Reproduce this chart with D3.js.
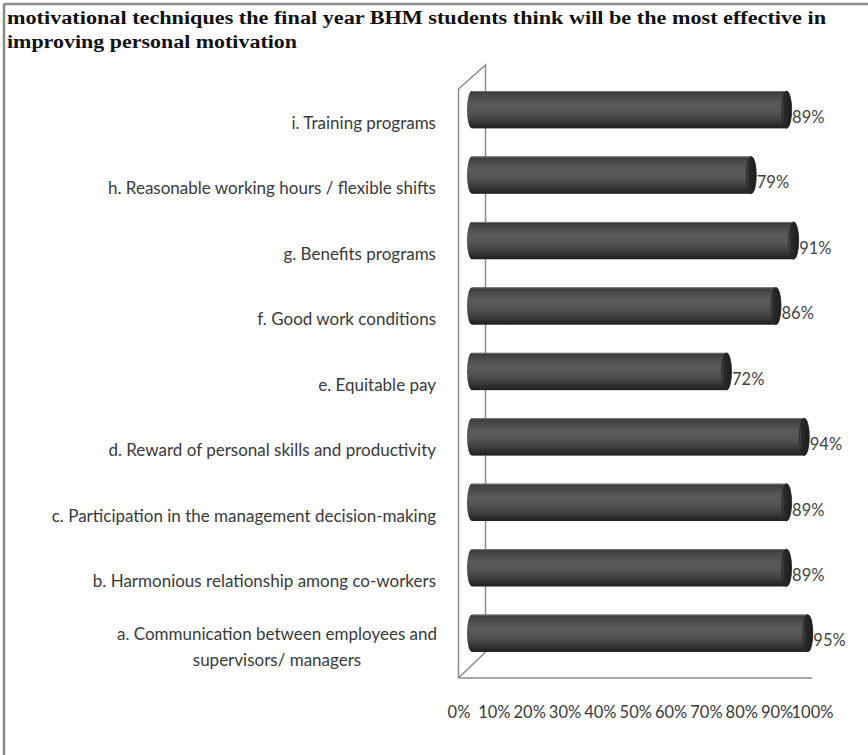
<!DOCTYPE html>
<html>
<head>
<meta charset="utf-8">
<script src="https://cdn.jsdelivr.net/npm/d3@7/dist/d3.min.js"></script>
<style>
  html, body { margin: 0; padding: 0; background: #fff; }
  svg { display: block; }
</style>
</head>
<body>
<svg id="chart" width="868" height="755"></svg>
<script>
// ---- data ----
const categories = [
  "i. Training programs",
  "h. Reasonable working hours / flexible shifts",
  "g. Benefits programs",
  "f. Good work conditions",
  "e. Equitable pay",
  "d. Reward of personal skills and productivity",
  "c. Participation in the management decision-making",
  "b. Harmonious relationship among co-workers",
  "a. Communication between employees and|supervisors/ managers"
];
const values = [0.89, 0.79, 0.91, 0.86, 0.72, 0.94, 0.89, 0.89, 0.95];
const tickValues = [0, 0.1, 0.2, 0.3, 0.4, 0.5, 0.6, 0.7, 0.8, 0.9, 1.0];
const titleLines = [
  "motivational techniques the final year BHM students think will be the most effective in",
  "improving personal motivation"
];

const svg = d3.select("#chart");
const W = 868, H = 755;
const textFont = "Lato, 'Open Sans', sans-serif";

// frame (left and top border)
svg.append("line").attr("x1", 4).attr("y1", 4).attr("x2", 4).attr("y2", H)
  .attr("stroke", "#8a8a8a").attr("stroke-width", 2.5);
svg.append("line").attr("x1", 4).attr("y1", 4).attr("x2", W).attr("y2", 4)
  .attr("stroke", "#8a8a8a").attr("stroke-width", 2.5);

// title
const title = svg.append("g").attr("font-family", "'Liberation Serif', 'Times New Roman', serif")
  .attr("font-weight", "bold").attr("font-size", 18).attr("fill", "#111");
title.append("text").attr("x", 7).attr("y", 24).text(titleLines[0])
  .attr("textLength", 819).attr("lengthAdjust", "spacingAndGlyphs");
title.append("text").attr("x", 7).attr("y", 48).text(titleLines[1])
  .attr("textLength", 290).attr("lengthAdjust", "spacingAndGlyphs");

// scales (front plane)
const x = d3.scaleLinear().domain([0, 1]).range([458.5, 812]);
const y = d3.scaleBand().domain(categories).range([89, 678]).paddingInner(0.43).paddingOuter(0.215);
const yFull = d3.scaleBand().domain(categories).range([89, 678]);
const depth = { dx: 27, dy: -24 };
const mid = { dx: depth.dx / 2, dy: depth.dy / 2 };

// walls
const wallColor = "#8c8c8c";
const walls = svg.append("g").attr("stroke", wallColor).attr("stroke-width", 1.5).attr("fill", "none");
const x0 = x(0), yTop = 89, yBot = 678;
walls.append("path").attr("d", d3.line()([
  [x0, yBot], [x0, yTop], [x0 + depth.dx, yTop + depth.dy], [x0 + depth.dx, yBot + depth.dy - 2], [x0, yBot]
]));
walls.append("line").attr("x1", x0).attr("y1", yBot).attr("x2", x(1)).attr("y2", yBot);

// gradients
const defs = svg.append("defs");
const body = defs.append("linearGradient").attr("id", "bodyGrad")
  .attr("x1", 0).attr("y1", 0).attr("x2", 0).attr("y2", 1);
[[0, "#2e2e2e"], [0.08, "#444"], [0.35, "#5a5a5a"], [0.55, "#555"], [0.8, "#3c3c3c"], [1, "#1e1e1e"]]
  .forEach(([o, c]) => body.append("stop").attr("offset", o).attr("stop-color", c));
const cap = defs.append("linearGradient").attr("id", "capGrad")
  .attr("x1", 0).attr("y1", 0).attr("x2", 1).attr("y2", 0);
[[0, "#555"], [0.25, "#2a2a2a"], [1, "#1c1c1c"]]
  .forEach(([o, c]) => cap.append("stop").attr("offset", o).attr("stop-color", c));

// bars (cylinders in the middle depth plane)
const rx = 5;
const bars = svg.append("g");
const data = categories.map((c, i) => ({ c, v: values[i] }));
data.forEach(d => {
  const g = bars.append("g");
  const yb = y(d.c) + mid.dy;
  const h = y.bandwidth();
  const xs = x(0) + mid.dx;
  const xe = x(d.v) + mid.dx;
  g.append("ellipse").attr("cx", xs).attr("cy", yb + h / 2).attr("rx", rx).attr("ry", h / 2)
    .attr("fill", "url(#bodyGrad)");
  g.append("rect").attr("x", xs).attr("y", yb).attr("width", xe - xs).attr("height", h)
    .attr("fill", "url(#bodyGrad)");
  g.append("line").attr("x1", xs).attr("x2", xe).attr("y1", yb + 0.5).attr("y2", yb + 0.5)
    .attr("stroke", "#777").attr("stroke-width", 1);
  g.append("ellipse").attr("cx", xe).attr("cy", yb + h / 2).attr("rx", rx).attr("ry", h / 2)
    .attr("fill", "url(#capGrad)").attr("stroke", "#222").attr("stroke-width", 0.8);
  // value label
  svg.append("text").attr("x", xe + rx + 0.5).attr("y", yb + h / 2 + 9)
    .attr("dominant-baseline", "middle")
    .attr("font-family", textFont).attr("font-size", 16.5)
    .attr("fill", "#444").text(d3.format(".0%")(d.v));
});

// category labels (front plane)
const labels = svg.append("g").attr("font-family", textFont)
  .attr("font-size", 17).attr("fill", "#3a3a3a");
categories.forEach(c => {
  const cy = yFull(c) + yFull.bandwidth() / 2 + 3;
  const parts = c.split("|");
  if (parts.length === 1) {
    labels.append("text").attr("x", 436).attr("y", cy).attr("text-anchor", "end")
      .attr("dominant-baseline", "middle").text(c);
  } else {
    parts.forEach((p, k) => {
      labels.append("text").attr("x", 277).attr("y", cy + (k - (parts.length - 1) / 2) * 26)
        .attr("text-anchor", "middle").attr("dominant-baseline", "middle").text(p);
    });
  }
});

// x axis tick labels
const axis = d3.axisBottom(x).tickValues(tickValues).tickFormat(d3.format(".0%")).tickSize(0).tickPadding(0);
const ax = svg.append("g").attr("transform", "translate(0,712)").call(axis);
ax.select(".domain").remove();
ax.selectAll("text").attr("font-family", textFont).attr("font-size", 16.5)
  .attr("fill", "#3a3a3a").attr("dy", "0.35em").attr("y", 0);
</script>
</body>
</html>
